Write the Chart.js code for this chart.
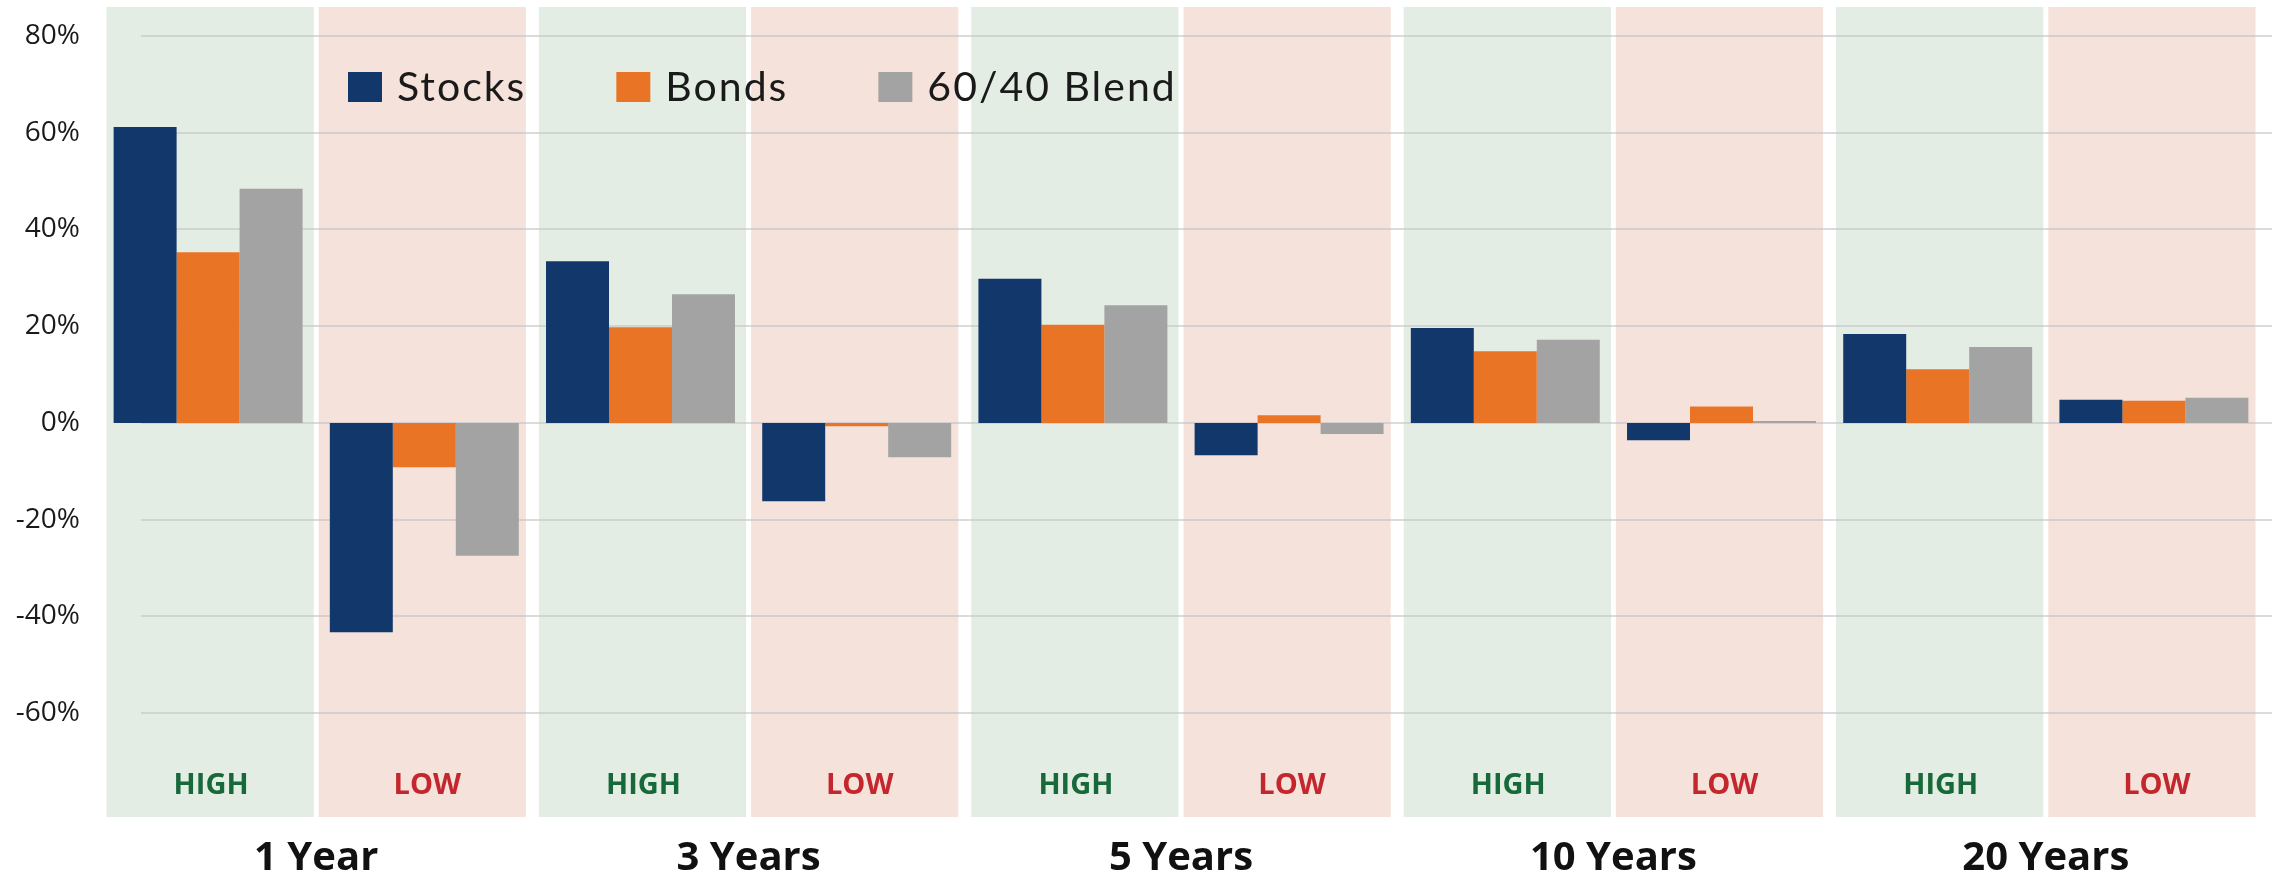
<!DOCTYPE html>
<html>
<head>
<meta charset="utf-8">
<script src="https://cdn.jsdelivr.net/npm/chart.js@4.4.1/dist/chart.umd.min.js"></script>
<style>
html, body { margin: 0; padding: 0; background: #fff; }
#wrap { width: 2272px; height: 878px; }
</style>
</head>
<body>
<div id="wrap"><canvas id="myChart"></canvas></div>
<script>
var groups = ['1 Year', '3 Years', '5 Years', '10 Years', '20 Years'];
var regimes = ['HIGH', 'LOW'];
var seriesNames = ['Stocks', 'Bonds', '60/40 Blend'];
var stocks = [61.2, -43.3, 33.4, -16.2, 29.8, -6.7, 19.6, -3.6, 18.4, 4.8];
var bonds = [35.3, -9.2, 19.8, -0.7, 20.3, 1.6, 14.8, 3.4, 11.1, 4.6];
var blend = [48.4, -27.5, 26.6, -7.1, 24.3, -2.3, 17.2, 0.4, 15.7, 5.2];
var yTicks = [-60, -40, -20, 0, 20, 40, 60, 80];

var seriesColors = ['#12386b', '#ea7425', '#a3a3a3'];
var panelColors = { HIGH: '#e3ede4', LOW: '#f5e2da' };
var regimeColors = { HIGH: '#17693a', LOW: '#c4262e' };

// one category per panel: 1 Year HIGH, 1 Year LOW, 3 Years HIGH ...
var labels = [];
var regimeOf = [];
for (var i = 0; i < groups.length; i++) {
    for (var j = 0; j < regimes.length; j++) {
        labels.push(groups[i] + ' ' + regimes[j]);
        regimeOf.push(regimes[j]);
    }
}

var backdrop = {
    id: 'backdrop',
    beforeDatasetsDraw: function (chart) {
        var c = chart.ctx, a = chart.chartArea;
        var x = chart.scales.x, y = chart.scales.y;
        var step = x.width / labels.length;
        c.save();
        // shaded panels, wider gap between groups than inside a group
        for (var i = 0; i < labels.length; i++) {
            var cx = x.getPixelForValue(i);
            var l, r;
            if (regimeOf[i] === 'HIGH') { l = cx - step / 2 + 6.5; r = cx + step / 2 - 2.5; }
            else { l = cx - step / 2 + 2.5; r = cx + step / 2 - 6.5; }
            c.fillStyle = panelColors[regimeOf[i]];
            c.fillRect(l, a.top, r - l, a.bottom - a.top);
        }
        // gridlines
        c.strokeStyle = 'rgba(195,195,200,0.6)';
        c.lineWidth = 2;
        yTicks.forEach(function (v) {
            var py = Math.round(y.getPixelForValue(v));
            c.beginPath();
            c.moveTo(a.left + 41, py);
            c.lineTo(chart.width, py);
            c.stroke();
        });
        // HIGH / LOW
        c.font = 'bold 29px "Open Sans"';
        c.textAlign = 'center';
        c.textBaseline = 'middle';
        for (var k = 0; k < labels.length; k++) {
            c.fillStyle = regimeColors[regimeOf[k]];
            c.fillText(regimeOf[k], x.getPixelForValue(k) + 3, y.getPixelForValue(-75));
        }
        c.restore();
    },
    afterDraw: function (chart) {
        var c = chart.ctx, a = chart.chartArea;
        var px = a.left + 248, top = a.top + 65;
        c.save();
        c.font = '400 41px Lato';
        c.letterSpacing = '2px';
        c.textBaseline = 'middle';
        c.textAlign = 'left';
        for (var i = 0; i < seriesNames.length; i++) {
            c.fillStyle = seriesColors[i];
            c.fillRect(px, top, 34, 30);
            px += 34 + 15;
            c.fillStyle = '#1a1a1a';
            c.fillText(seriesNames[i], px, top + 16);
            px += c.measureText(seriesNames[i]).width + 90;
        }
        c.restore();
    }
};

var ctx = document.getElementById('myChart').getContext('2d');
var myChart = new Chart(ctx, {
    type: 'bar',
    data: {
        labels: labels,
        datasets: [
            { label: seriesNames[0], data: stocks, backgroundColor: seriesColors[0] },
            { label: seriesNames[1], data: bonds, backgroundColor: seriesColors[1] },
            { label: seriesNames[2], data: blend, backgroundColor: seriesColors[2] }
        ]
    },
    options: {
        responsive: true,
        maintainAspectRatio: false,
        animation: false,
        devicePixelRatio: 1,
        layout: { padding: { left: 16, right: 10, top: 7, bottom: 1 } },
        datasets: { bar: { categoryPercentage: 0.874, barPercentage: 1.0 } },
        plugins: { legend: { display: false }, tooltip: { enabled: false } },
        scales: {
            x: { display: false },
            x2: {
                type: 'category',
                axis: 'x',
                position: 'bottom',
                labels: groups,
                offset: true,
                grid: { display: false, drawTicks: false },
                border: { display: false },
                afterFit: function (axis) {
                    axis.height = 60;
                    axis.paddingLeft = 0;
                    axis.paddingRight = 0;
                },
                ticks: {
                    padding: 18,
                    color: '#111',
                    font: { family: 'Open Sans', size: 40, weight: 'bold' }
                }
            },
            y: {
                min: -81.5,
                max: 86,
                afterBuildTicks: function (axis) {
                    axis.ticks = yTicks.map(function (v) { return { value: v }; });
                },
                afterFit: function (axis) {
                    axis.width = 84;
                    axis.paddingTop = 0;
                    axis.paddingBottom = 0;
                },
                grid: { display: false, drawTicks: false },
                border: { display: false },
                ticks: {
                    padding: 20,
                    color: '#1a1a1a',
                    font: { family: 'Open Sans', size: 28 },
                    callback: function (v) { return v + '%'; }
                }
            }
        }
    },
    plugins: [backdrop]
});
</script>
</body>
</html>
